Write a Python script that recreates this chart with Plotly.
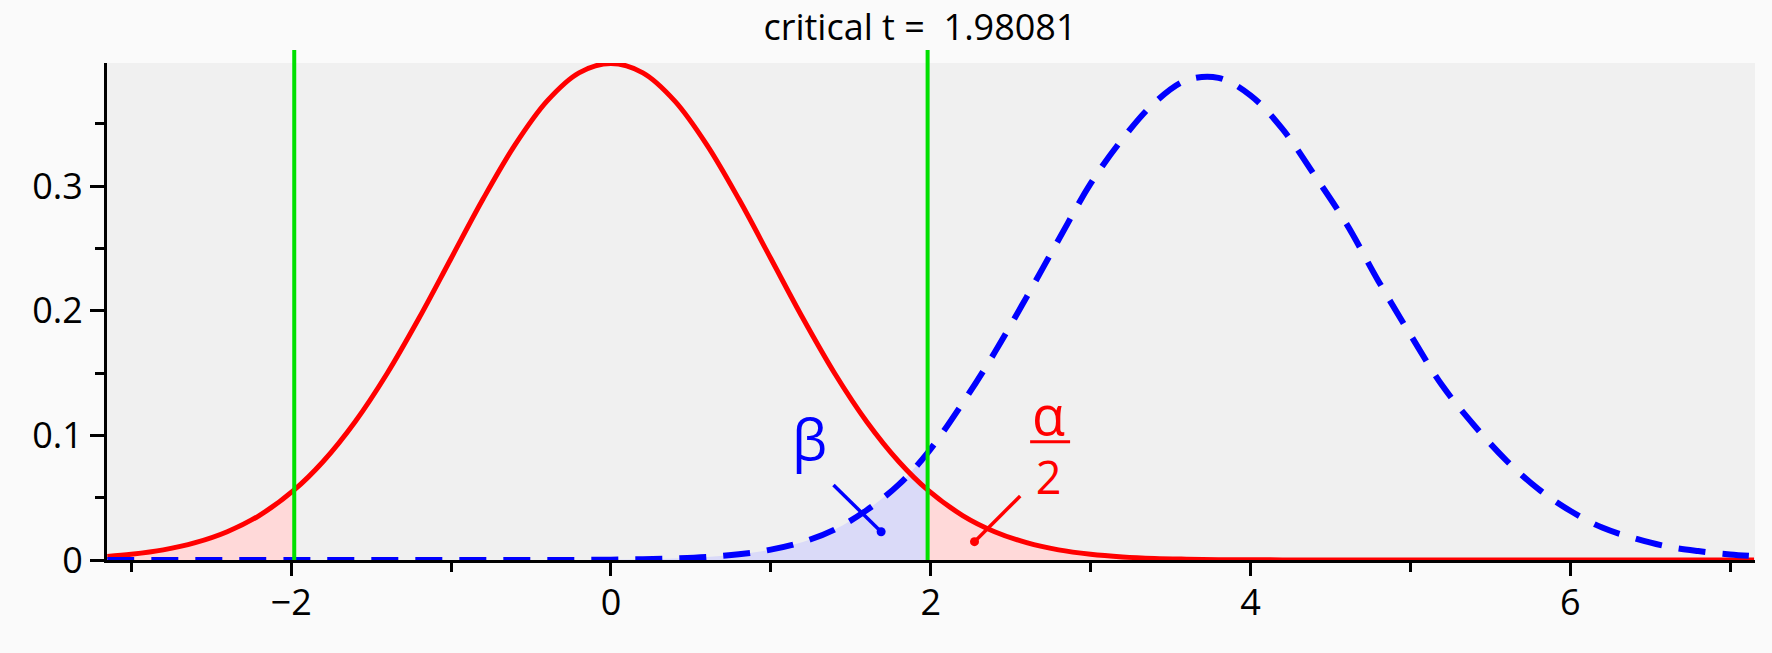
import plotly.graph_objects as go

# ---------------- data ----------------
critical_t = 1.98081
title_text = "critical t =\u00a0 1.98081"

t_values = [-3.15, -3.0, -2.8, -2.6, -2.4, -2.2, -1.98081, -1.8, -1.6, -1.4, -1.2, -1.0,
            -0.8, -0.6, -0.4, -0.2, 0.0, 0.2, 0.4, 0.6, 0.8, 1.0, 1.2, 1.4, 1.6, 1.8,
            1.98081, 2.2, 2.4, 2.6, 2.8, 3.0, 3.2, 3.4, 3.6, 3.8, 4.0, 4.2, 4.4, 4.6,
            4.8, 5.0, 5.2, 5.4, 5.6, 5.8, 6.0, 6.2, 6.4, 6.6, 6.8, 7.0, 7.15]

# null distribution (red, solid)
null_density = [0.0029, 0.0046, 0.0081, 0.0139, 0.0227, 0.0357, 0.0563, 0.0791, 0.1110,
                0.1497, 0.1942, 0.2420, 0.2897, 0.3332, 0.3683, 0.3910, 0.3985, 0.3910,
                0.3683, 0.3332, 0.2897, 0.2420, 0.1942, 0.1497, 0.1110, 0.0791, 0.0563,
                0.0357, 0.0227, 0.0139, 0.0081, 0.0046, 0.0025, 0.0013, 0.0007, 0.0003,
                0.0002, 0.0001, 0.0001, 0.0, 0.0, 0.0, 0.0, 0.0, 0.0, 0.0, 0.0, 0.0, 0.0,
                0.0, 0.0, 0.0, 0.0]

# alternative distribution (blue, dashed)
alt_density = [0.0, 0.0, 0.0, 0.0, 0.0, 0.0, 0.0, 0.0, 0.0, 0.0, 0.0, 0.0,
               0.0, 0.0, 0.0001, 0.0001, 0.0003, 0.0006, 0.0012, 0.0024, 0.0046, 0.0083,
               0.0145, 0.0245, 0.0400, 0.0605, 0.0860, 0.1260, 0.1665, 0.2110, 0.2570,
               0.3020, 0.3380, 0.3670, 0.3850, 0.3870, 0.3730, 0.3460, 0.3090, 0.2700,
               0.2240, 0.1810, 0.1400, 0.1080, 0.0800, 0.0570, 0.0395, 0.0260, 0.0175,
               0.0110, 0.0072, 0.0045, 0.0032]

x_tick_labels = ["\u22122", "0", "2", "4", "6"]
y_tick_labels = ["0", "0.1", "0.2", "0.3"]

# ---------------- styling ----------------
RED = "#ff0000"
BLUE = "#0000ff"
GREEN = "#00e000"
PINK_FILL = "#ffd9d9"
BLUE_FILL = "#dadaf8"
FONT = "Open Sans"

left_x = [x for x in t_values if x <= -critical_t]
left_y = [y for x, y in zip(t_values, null_density) if x <= -critical_t]
right_x = [x for x in t_values if x >= critical_t]
right_y = [y for x, y in zip(t_values, null_density) if x >= critical_t]
beta_x = [x for x in t_values if x <= critical_t]
beta_y = [y for x, y in zip(t_values, alt_density) if x <= critical_t]

fig = go.Figure()

for xs, ys, col in [(beta_x, beta_y, BLUE_FILL), (left_x, left_y, PINK_FILL),
                    (right_x, right_y, PINK_FILL)]:
    fig.add_trace(go.Scatter(x=xs, y=ys, mode="lines", fill="tozeroy",
                             fillcolor=col, line=dict(width=0, shape="spline"),
                             hoverinfo="skip", showlegend=False))

fig.add_trace(go.Scatter(x=t_values, y=null_density, mode="lines",
                         line=dict(color=RED, width=5, shape="spline"),
                         showlegend=False))
fig.add_trace(go.Scatter(x=t_values, y=alt_density, mode="lines",
                         line=dict(color=BLUE, width=6, shape="spline", dash="27px,17px"),
                         showlegend=False))

shapes = []
for xc in (-critical_t, critical_t):
    shapes.append(dict(type="line", xref="x", yref="paper", x0=xc, x1=xc, y0=0, y1=1.026,
                       line=dict(color=GREEN, width=4), layer="above"))
# leader lines and dots for annotations
shapes.append(dict(type="line", xref="x", yref="y", x0=1.392, y0=0.0602, x1=1.690, y1=0.0227,
                   line=dict(color=BLUE, width=3.5), layer="above"))
shapes.append(dict(type="circle", xref="x", yref="y", xsizemode="pixel", ysizemode="pixel",
                   xanchor=1.690, yanchor=0.0227, x0=-4.5, x1=4.5, y0=-4.5, y1=4.5,
                   fillcolor=BLUE, line=dict(color=BLUE, width=0), layer="above"))
shapes.append(dict(type="line", xref="x", yref="y", x0=2.56, y0=0.0514, x1=2.274, y1=0.0147,
                   line=dict(color=RED, width=3.5), layer="above"))
shapes.append(dict(type="circle", xref="x", yref="y", xsizemode="pixel", ysizemode="pixel",
                   xanchor=2.274, yanchor=0.0147, x0=-4.5, x1=4.5, y0=-4.5, y1=4.5,
                   fillcolor=RED, line=dict(color=RED, width=0), layer="above"))
# fraction bar of alpha/2
shapes.append(dict(type="line", xref="x", yref="y", x0=2.622, x1=2.872, y0=0.0949, y1=0.0949,
                   line=dict(color=RED, width=3), layer="above"))

annotations = [
    dict(x=1.24, y=0.098, xref="x", yref="y", text="β", showarrow=False,
         font=dict(family=FONT, size=56, color=BLUE), xanchor="center", yanchor="middle"),
    dict(x=2.74, y=0.0949, xref="x", yref="y",
         text="<span style='font-size:54px'>α</span><br>2", showarrow=False,
         font=dict(family=FONT, size=45, color=RED), xanchor="center", yanchor="middle",
         align="center"),
]

fig.update_layout(
    width=1772, height=653,
    margin=dict(l=107, r=17, t=63, b=93),
    paper_bgcolor="#fafafa",
    plot_bgcolor="#f0f0f0",
    font=dict(family=FONT, size=36, color="black"),
    title=dict(text=title_text, x=920 / 1772, xanchor="center", xref="container",
               y=1 - 27 / 653, yanchor="middle", yref="container",
               font=dict(family=FONT, size=36, color="black")),
    shapes=shapes,
    annotations=annotations,
    showlegend=False,
)

fig.update_xaxes(range=[-3.152, 7.156], showgrid=False, zeroline=False,
                 showline=True, linecolor="black", linewidth=3,
                 ticks="outside", ticklen=13, tickwidth=3, tickcolor="black",
                 tickmode="array", tickvals=[-2, 0, 2, 4, 6], ticktext=x_tick_labels,
                 ticklabelstandoff=-4, automargin=False,
                 minor=dict(ticks="outside", tickmode="array",
                            tickvals=[-3, -1, 1, 3, 5, 7],
                            ticklen=9, tickwidth=3, tickcolor="black", showgrid=False),
                 tickfont=dict(family=FONT, size=36, color="black"))
fig.update_yaxes(range=[0, 0.3989], showgrid=False, zeroline=False,
                 showline=True, linecolor="black", linewidth=3,
                 ticks="outside", ticklen=14, tickwidth=3, tickcolor="black",
                 tickmode="array", tickvals=[0, 0.1, 0.2, 0.3], ticktext=y_tick_labels,
                 automargin=False,
                 minor=dict(ticks="outside", tickmode="array",
                            tickvals=[0.05, 0.15, 0.25, 0.35],
                            ticklen=9, tickwidth=3, tickcolor="black", showgrid=False),
                 tickfont=dict(family=FONT, size=36, color="black"))

fig.write_html("out.html", config={"displayModeBar": False},
               post_script="document.body.style.margin='0px';")
